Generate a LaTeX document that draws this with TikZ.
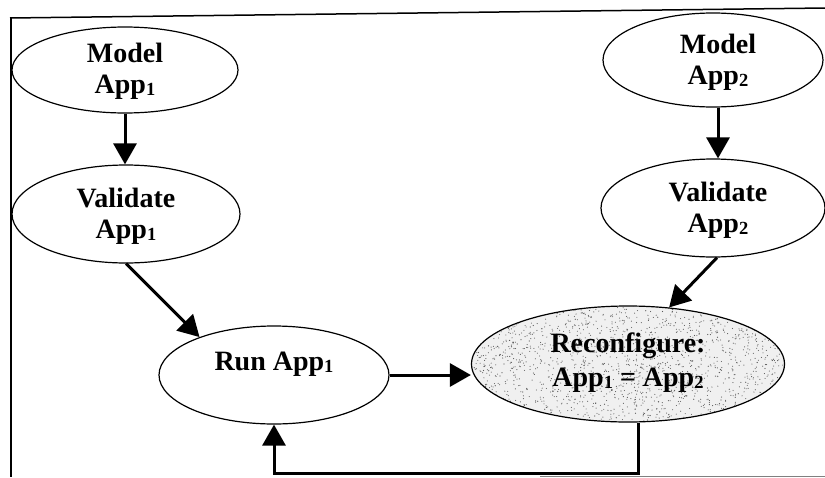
\documentclass[tikz,border=0pt]{standalone}
\usepackage{fontspec}
\setmainfont{Liberation Serif}
\usetikzlibrary{shapes.geometric,arrows.meta}
\newcommand\appsub[1]{\raisebox{-2pt}{\fontsize{18.5}{18.5}\selectfont #1}}
\begin{document}
\begin{tikzpicture}[x=1pt,y=-1pt,
  ell/.style={draw=black,line width=1.2pt,ellipse,inner sep=0pt},
  lbl/.style={font=\fontsize{28}{31}\selectfont\bfseries,align=center,inner sep=0pt},
  arr/.style={line width=3pt,-{Triangle[length=21pt,width=23pt]}},
  framed/.style={line width=1.5pt,black}]
\useasboundingbox (0,0) rectangle (825,477);
% frame
\draw[framed] (10,18) -- (825,8);
\draw[framed] (11,17) -- (11,477);
\draw[gray,line width=1pt] (540,476) -- (825,476);
% stipple of the reconfigure ellipse
\begin{scope}
  \clip (628,364) ellipse [x radius=156.5pt, y radius=58pt];
  \fill[gray!12] (470,300) rectangle (790,430);
  \pgfmathsetseed{42}
  \foreach \i in {1,...,1900}{\fill[black!65] ({628+157*rand},{364+59*rand}) circle[radius=0.55pt];}
\end{scope}
% nodes
\node[ell,minimum width=226pt,minimum height=86pt] (m1) at (125,70) {};
\node[lbl] (m1t) at (125,71) {Model\\App\appsub{1}};
\node[ell,minimum width=228pt,minimum height=98pt] (v1) at (126,214) {};
\node[lbl] (v1t) at (126,216) {Validate\\App\appsub{1}};
\node[ell,minimum width=220pt,minimum height=94pt] (m2) at (713,60) {};
\node[lbl] (m2t) at (718,62) {Model\\App\appsub{2}};
\node[ell,minimum width=224pt,minimum height=98pt] (v2) at (713,208) {};
\node[lbl] (v2t) at (718,210) {Validate\\App\appsub{2}};
\node[ell,minimum width=230pt,minimum height=98pt] (run) at (274,375) {};
\node[lbl,anchor=base] (runt) at (274,370) {Run App\appsub{1}};
\node[ell,minimum width=313pt,minimum height=116pt] (rc) at (628,364) {};
\node[lbl] (rct) at (628,363) {Reconfigure:\\[3pt]App\appsub{1} = App\appsub{2}};
% connectors
\draw[arr] (m1.south) -- (m1.south |- v1.north);
\draw[arr] ([xshift=5pt]m2.south) -- ([xshift=5pt]v2.north);
\draw[arr] (v1.south) -- (run.153);
\draw[arr] ([xshift=4pt]v2.south) -- (rc.54);
\draw[arr] (run.east) -- (run.east -| rc.west);
\coordinate (fb) at (274,473);
\draw[arr] ([xshift=10pt]rc.south) |- (fb) -- (run.south);
\end{tikzpicture}
\end{document}
